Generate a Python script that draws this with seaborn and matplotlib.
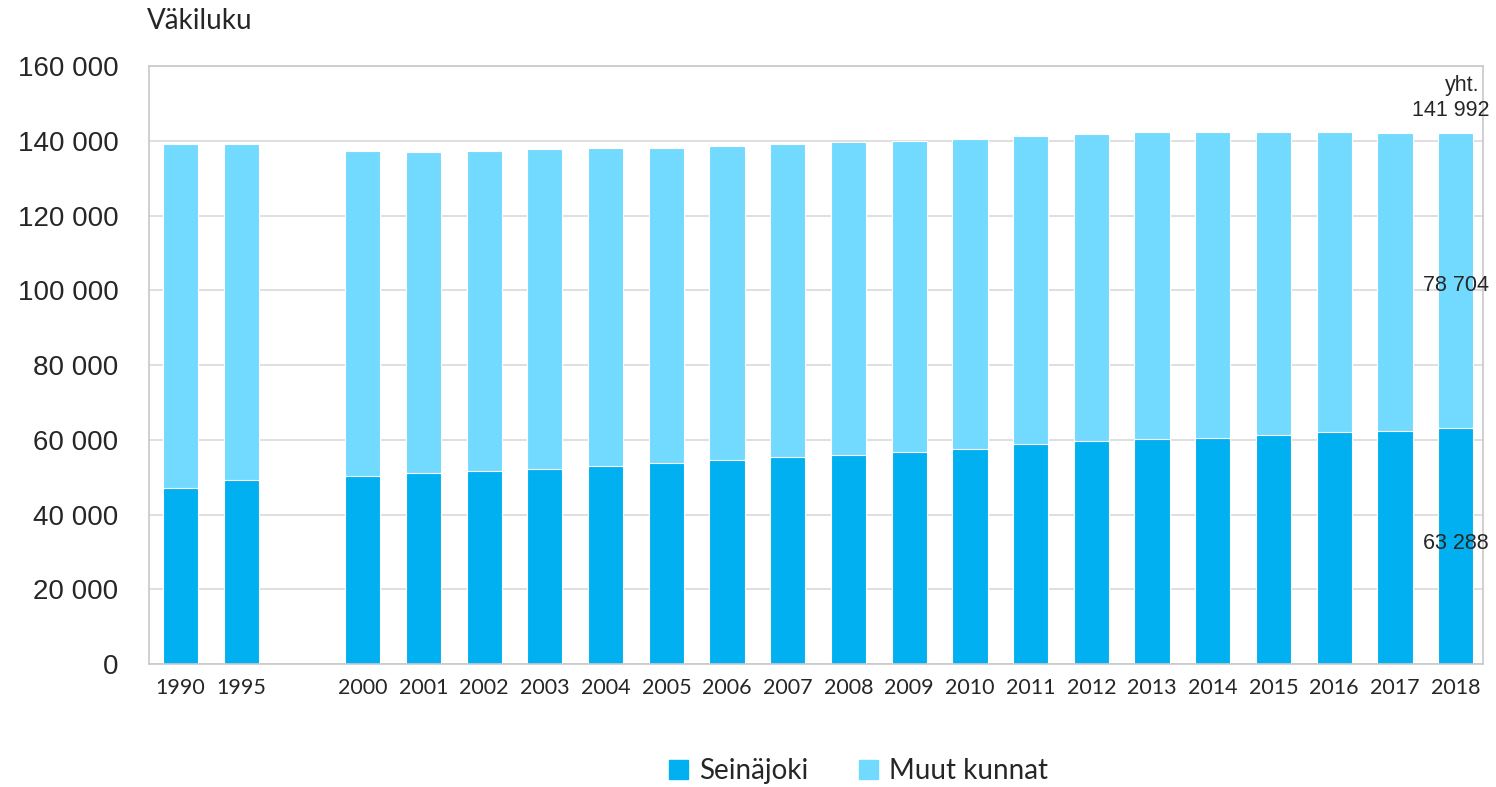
import numpy as np
import pandas as pd
import matplotlib
matplotlib.use('Agg')
import matplotlib.pyplot as plt
from matplotlib.ticker import FuncFormatter
from matplotlib.patches import Patch
import seaborn as sns

# data
vuodet = ['1990', '1995', '', '2000', '2001', '2002', '2003', '2004', '2005', '2006',
          '2007', '2008', '2009', '2010', '2011', '2012', '2013', '2014', '2015',
          '2016', '2017', '2018']
seinajoki = [47100, 49300, np.nan, 50400, 51200, 51600, 52300, 53100, 53800, 54600,
             55400, 56100, 56900, 57600, 58800, 59600, 60200, 60600, 61400,
             62100, 62500, 63288]
muut_kunnat = [92100, 89900, np.nan, 87000, 85800, 85800, 85500, 85100, 84400, 83900,
               83800, 83600, 83100, 82900, 82400, 82300, 82100, 81700, 80900,
               80200, 79500, 78704]

c_sein = '#00B0F0'
c_muut = '#72DAFE'

sns.set_style('white')
plt.rcParams['font.family'] = ['Liberation Sans', 'DejaVu Sans']

df = pd.DataFrame({'vuosi': vuodet, 'Seinäjoki': seinajoki, 'Muut kunnat': muut_kunnat})
df['yht'] = df['Seinäjoki'] + df['Muut kunnat']
df_plot = df[df['vuosi'] != '']

fig = plt.figure(figsize=(14.96, 7.87), dpi=100)
ax = fig.add_axes([0.0996, 0.156, 0.8917, 0.760])

# pinottu pylväs: ensin yhteensä, sitten Seinäjoki päälle
sns.barplot(data=df_plot, x='vuosi', y='yht', order=vuodet, color=c_muut,
            width=0.58, edgecolor='white', linewidth=0.8, saturation=1, ax=ax)
sns.barplot(data=df_plot, x='vuosi', y='Seinäjoki', order=vuodet, color=c_sein,
            width=0.58, edgecolor='white', linewidth=0.8, saturation=1, ax=ax)

ax.set_ylim(0, 160000)
ax.set_xlim(-0.52, len(vuodet) - 1 + 0.45)
ax.set_yticks(np.arange(0, 160001, 20000))
ax.yaxis.set_major_formatter(FuncFormatter(lambda v, p: f'{int(v):,}'.replace(',', ' ')))
ax.grid(axis='y', color='#d9d9d9', linewidth=1.2)
ax.set_axisbelow(True)
for s in ax.spines.values():
    s.set_color('#c8c8c8')
    s.set_linewidth(1.2)
ax.set_xlabel('')
ax.set_ylabel('')
ax.tick_params(axis='y', labelsize=20, length=0, pad=22)
ax.tick_params(axis='x', length=0, pad=10)
for lab in ax.get_xticklabels():
    lab.set_fontfamily(['Lato', 'DejaVu Sans'])
    lab.set_fontsize(15.5)

# tekstit viimeiselle pylväälle
i = len(vuodet) - 1
ax.text(i, 32200, '63 288', ha='center', va='center', fontsize=15.5)
ax.text(i, 101200, '78 704', ha='center', va='center', fontsize=15.5)
ax.text(i + 0.1, 154800, 'yht.', ha='center', va='center', fontsize=15.5)
ax.text(i - 0.08, 148100, '141 992', ha='center', va='center', fontsize=15.5)

fig.text(0.098, 0.973, 'Väkiluku', ha='left', va='center', fontsize=20,
         family=['Lato', 'DejaVu Sans'])

handles = [Patch(color=c_sein, label='Seinäjoki'), Patch(color=c_muut, label='Muut kunnat')]
fig.legend(handles=handles, loc='center', bbox_to_anchor=(0.574, 0.02), ncol=2,
           frameon=False, prop={'family': ['Lato', 'DejaVu Sans'], 'size': 20},
           handlelength=0.7, handleheight=0.7, handletextpad=0.4, columnspacing=1.8)

fig.savefig('out.png', dpi=100)
